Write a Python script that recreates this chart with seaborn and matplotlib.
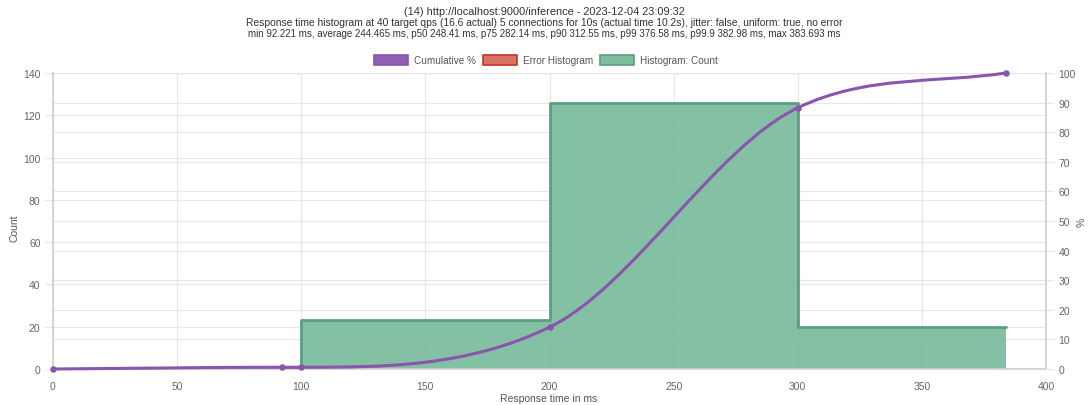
import numpy as np
import pandas as pd
import matplotlib
matplotlib.use("Agg")
import matplotlib.pyplot as plt
from matplotlib.path import Path
from matplotlib.patches import PathPatch, Patch
import seaborn as sns

# ---- data ----
bin_start = [92.221, 100, 200, 300]
bin_end = [100, 200, 300, 383.693]
counts = [1, 23, 126, 20]
cum_x = [0, 92.221, 100, 200, 300, 383.693]
cum_pct = [0, 0.59, 0.59, 14.12, 88.24, 100]
x_ticks = [0, 50, 100, 150, 200, 250, 300, 350, 400]
left_ticks = [0, 20, 40, 60, 80, 100, 120, 140]
right_ticks = [0, 10, 20, 30, 40, 50, 60, 70, 80, 90, 100]
title_lines = [
    "(14) http://localhost:9000/inference - 2023-12-04 23:09:32",
    "Response time histogram at 40 target qps (16.6 actual) 5 connections for 10s (actual time 10.2s), jitter: false, uniform: true, no error",
    "min 92.221 ms, average 244.465 ms, p50 248.41 ms, p75 282.14 ms, p90 312.55 ms, p99 376.58 ms, p99.9 382.98 ms, max 383.693 ms",
]
legend_labels = ["Cumulative %", "Error Histogram", "Histogram: Count"]

sns.set_theme(style="white")
plt.rcParams["font.family"] = ["Liberation Sans", "DejaVu Sans"]

PURPLE = "#8a55ad"
PURPLE_FILL = "#8e5fb2"
GREEN_FILL = "#7dbd9e"
GREEN_EDGE = "#5b9f80"
RED_FILL = "#d87263"
RED_EDGE = "#c0392b"
GRID = "#e6e6e6"
TXT = "#666666"

fig = plt.figure(figsize=(10.88, 4.06), dpi=100)
ax = fig.add_axes([53 / 1088, 1 - 370 / 406, (1046 - 53) / 1088, (370 - 74) / 406])
ax2 = ax.twinx()

Y_LEFT_MAX = 140
Y_RIGHT_MAX = 100

# grids (all behind the bars)
for t in x_ticks:
    ax.axvline(t, color=GRID, lw=0.8, zorder=0)
for t in left_ticks:
    ax.axhline(t, color=GRID, lw=0.8, zorder=0)
for t in right_ticks:
    ax.axhline(t * Y_LEFT_MAX / Y_RIGHT_MAX, color=GRID, lw=0.8, zorder=0)

# histogram (stepped area)
hist_df = pd.DataFrame({"x": bin_start, "count": counts})
sns.histplot(data=hist_df, x="x", weights="count", bins=bin_start + [bin_end[-1]],
             element="step", fill=True, color=GREEN_FILL, alpha=0.95,
             linewidth=0, ax=ax, zorder=2)
step_df = pd.DataFrame({"x": bin_start + [bin_end[-1]], "y": counts + [counts[-1]]})
sns.lineplot(data=step_df, x="x", y="y", drawstyle="steps-post", color=GREEN_EDGE,
             lw=2.0, ax=ax, zorder=3, sort=False)

# cumulative % line with monotone cubic rendering (as Chart.js does)
xs = np.array(cum_x, float)
ys = np.array(cum_pct, float)
n = len(xs)
dk = np.diff(ys) / np.diff(xs)
mk = np.zeros(n)
mk[0] = dk[0]
mk[-1] = dk[-1]
for i in range(1, n - 1):
    if dk[i - 1] == 0 or dk[i] == 0 or np.sign(dk[i - 1]) != np.sign(dk[i]):
        mk[i] = 0
    else:
        mk[i] = (dk[i - 1] + dk[i]) / 2
for i in range(n - 1):
    if dk[i] == 0:
        mk[i] = mk[i + 1] = 0
        continue
    a = mk[i] / dk[i]
    b = mk[i + 1] / dk[i]
    s = a * a + b * b
    if s > 9:
        tau = 3 / np.sqrt(s)
        mk[i] = a * tau * dk[i]
        mk[i + 1] = b * tau * dk[i]
verts = [(xs[0], ys[0])]
codes = [Path.MOVETO]
for i in range(n - 1):
    h = (xs[i + 1] - xs[i]) / 3
    verts += [(xs[i] + h, ys[i] + mk[i] * h), (xs[i + 1] - h, ys[i + 1] - mk[i + 1] * h),
              (xs[i + 1], ys[i + 1])]
    codes += [Path.CURVE4] * 3
ax2.add_patch(PathPatch(Path(verts, codes), fill=False, edgecolor=PURPLE, lw=2.2,
                        zorder=5, capstyle="round", joinstyle="round", clip_on=False))
cum_df = pd.DataFrame({"x": cum_x, "y": cum_pct})
sns.scatterplot(data=cum_df, x="x", y="y", color=PURPLE, s=22, linewidth=0,
                ax=ax2, zorder=6, clip_on=False)

# axes
ax.set_xlim(0, 400)
ax.set_ylim(0, Y_LEFT_MAX)
ax2.set_ylim(0, Y_RIGHT_MAX)
ax.set_xticks(x_ticks)
ax.set_yticks(left_ticks)
ax2.set_yticks(right_ticks)
ax.set_xlabel("")
ax.set_ylabel("")
ax2.set_ylabel("")
for a in (ax, ax2):
    a.tick_params(axis="both", labelsize=7.5, labelcolor=TXT, length=6, width=0.8,
                  pad=3, color=GRID)
    for sp in a.spines.values():
        sp.set_visible(False)
ax.spines["left"].set_visible(True)
ax.spines["left"].set_color("#d0d0d0")
ax.spines["bottom"].set_visible(True)
ax.spines["bottom"].set_color("#d0d0d0")
ax2.spines["right"].set_visible(True)
ax2.spines["right"].set_color("#d0d0d0")
ax.set_zorder(1)
ax2.set_zorder(2)
ax2.patch.set_visible(False)

# axis titles
fig.text(549 / 1088, 1 - 399 / 406, "Response time in ms", ha="center", va="center",
         fontsize=7.5, color="#555555")
fig.text(14 / 1088, 1 - 228 / 406, "Count", ha="center", va="center", rotation=90,
         fontsize=7.5, color="#555555")
fig.text(1082 / 1088, 1 - 222 / 406, "%", ha="center", va="center", rotation=90,
         fontsize=7.5, color="#555555")

# title
title_sizes = [7.9, 7.4, 7.0]
for k, line in enumerate(title_lines):
    fig.text(544 / 1088, 1 - (12 + 11 * k) / 406, line, ha="center", va="center",
             fontsize=title_sizes[k], color="#333333")

# legend
handles = [
    Patch(facecolor=PURPLE_FILL, edgecolor=PURPLE, lw=1.2),
    Patch(facecolor=RED_FILL, edgecolor=RED_EDGE, lw=1.2),
    Patch(facecolor=GREEN_FILL, edgecolor=GREEN_EDGE, lw=1.2),
]
fig.legend(handles, legend_labels, loc="center", bbox_to_anchor=(546 / 1088, 1 - 61 / 406),
           ncol=3, frameon=False, fontsize=7.2, handlelength=3.4, handleheight=1.1,
           handletextpad=0.6, columnspacing=0.7, labelcolor="#555555")

fig.savefig("out.png", dpi=100)
